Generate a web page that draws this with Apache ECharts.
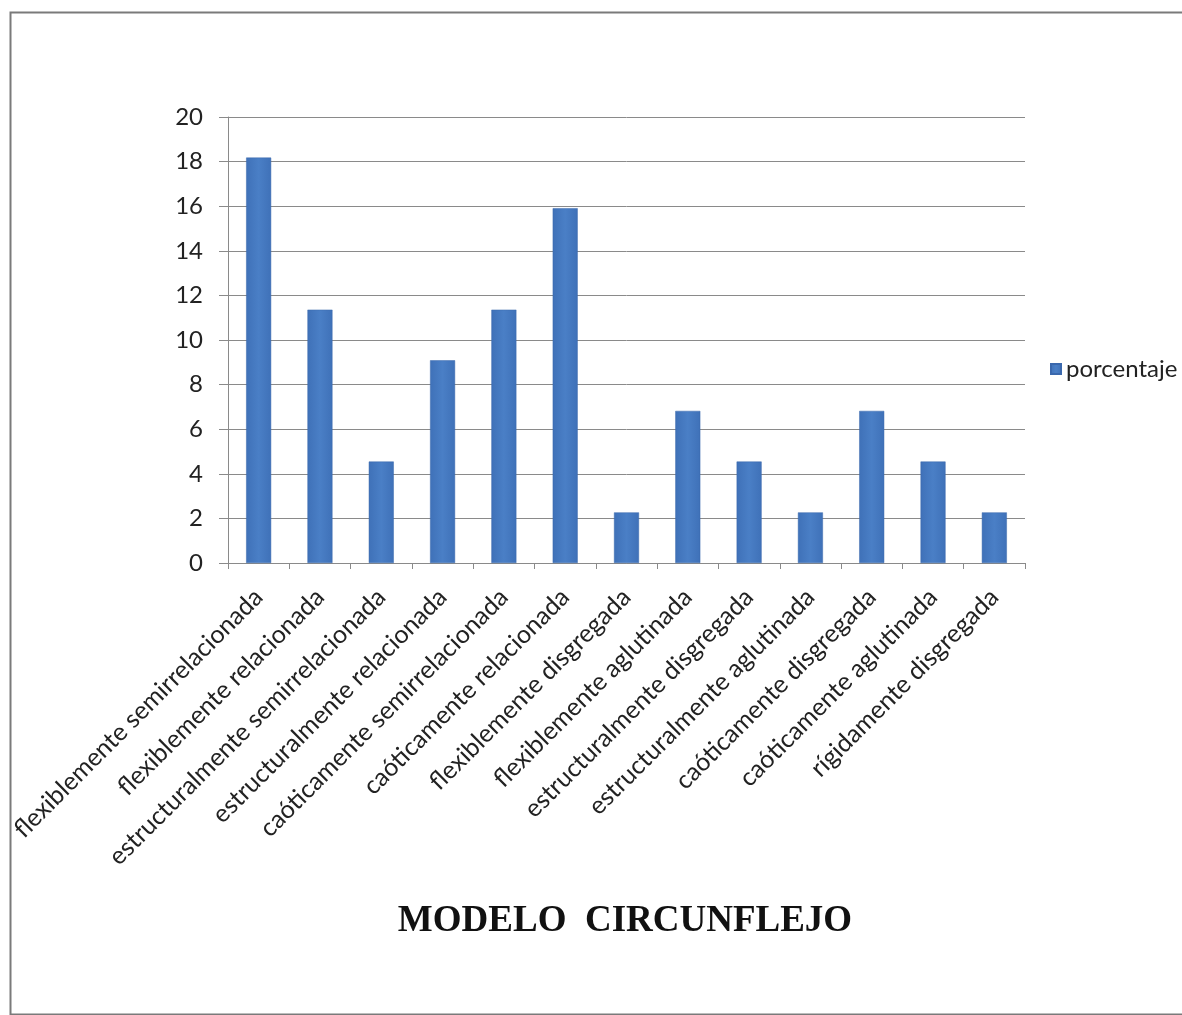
<!DOCTYPE html>
<html>
<head>
<meta charset="utf-8">
<script src="https://cdn.jsdelivr.net/npm/echarts@6/dist/echarts.min.js"></script>
<style>
  html, body { margin: 0; padding: 0; background: #ffffff; }
  #chart { width: 1182px; height: 1015px; }
</style>
</head>
<body>
<div id="chart"></div>
<script>
// Family types of the circumplex model and their share (%) of the sample
const categories = [
  'flexiblemente semirrelacionada',
  'flexiblemente relacionada',
  'estructuralmente semirrelacionada',
  'estructuralmente relacionada',
  'caóticamente semirrelacionada',
  'caóticamente relacionada',
  'flexiblemente disgregada',
  'flexiblemente aglutinada',
  'estructuralmente disgregada',
  'estructuralmente aglutinada',
  'caóticamente disgregada',
  'caóticamente aglutinada',
  'rígidamente disgregada'
];
const porcentaje = [18.18, 11.36, 4.55, 9.09, 11.36, 15.91, 2.27, 6.82, 4.55, 2.27, 6.82, 4.55, 2.27];
const seriesName = 'porcentaje';
const chartTitle = 'MODELO  CIRCUNFLEJO';
const yMin = 0, yMax = 20, yStep = 2;

const labelFont = 'Lato, "Open Sans", sans-serif';
const chart = echarts.init(document.getElementById('chart'), null, { renderer: 'canvas' });

chart.setOption({
  backgroundColor: '#ffffff',
  animation: false,
  title: {
    text: chartTitle,
    left: 620,
    top: 898,
    textAlign: 'center',
    textStyle: {
      fontFamily: '"Liberation Serif", "Times New Roman", serif',
      fontWeight: 'bold',
      fontSize: 37,
      color: '#111111'
    }
  },
  legend: {
    data: [seriesName],
    left: 1045,
    top: 352,
    orient: 'vertical',
    itemWidth: 10,
    itemHeight: 10,
    textStyle: { fontFamily: labelFont, fontSize: 24, color: '#222222', padding: [0, 0, 0, 0] },
    icon: 'rect'
  },
  grid: { left: 228, top: 117, right: 157, bottom: 452, containLabel: false },
  xAxis: {
    type: 'category',
    data: categories,
    boundaryGap: true,
    axisLine: { lineStyle: { color: '#8a8a8a', width: 1 } },
    axisTick: { show: true, length: 6, alignWithLabel: false, lineStyle: { color: '#8a8a8a' } },
    axisLabel: {
      interval: 0,
      rotate: 45,
      margin: 30,
      fontFamily: labelFont,
      fontSize: 25,
      color: '#222222'
    }
  },
  yAxis: {
    type: 'value',
    min: yMin,
    max: yMax,
    interval: yStep,
    axisLine: { show: true, lineStyle: { color: '#8a8a8a', width: 1 } },
    axisTick: { show: true, length: 9, lineStyle: { color: '#8a8a8a' } },
    splitLine: { show: true, lineStyle: { color: '#8a8a8a', width: 1 } },
    axisLabel: {
      margin: 25,
      fontFamily: labelFont,
      fontSize: 24,
      color: '#222222'
    }
  },
  series: [{
    name: seriesName,
    type: 'bar',
    data: porcentaje,
    barWidth: 25,
    itemStyle: {
      color: new echarts.graphic.LinearGradient(0, 0, 1, 0, [
        { offset: 0, color: '#3f71b8' },
        { offset: 0.5, color: '#4a7fc6' },
        { offset: 1, color: '#3f71b8' }
      ]),
      borderColor: '#3a68ad',
      borderWidth: 0.5
    }
  }],
  graphic: [{
    type: 'rect',
    left: 8,
    top: 10,
    shape: { x: 0, y: 0, width: 1190, height: 1002 },
    style: { fill: 'none', stroke: '#7a7a7a', lineWidth: 2 },
    silent: true
  }]
});
</script>
</body>
</html>
